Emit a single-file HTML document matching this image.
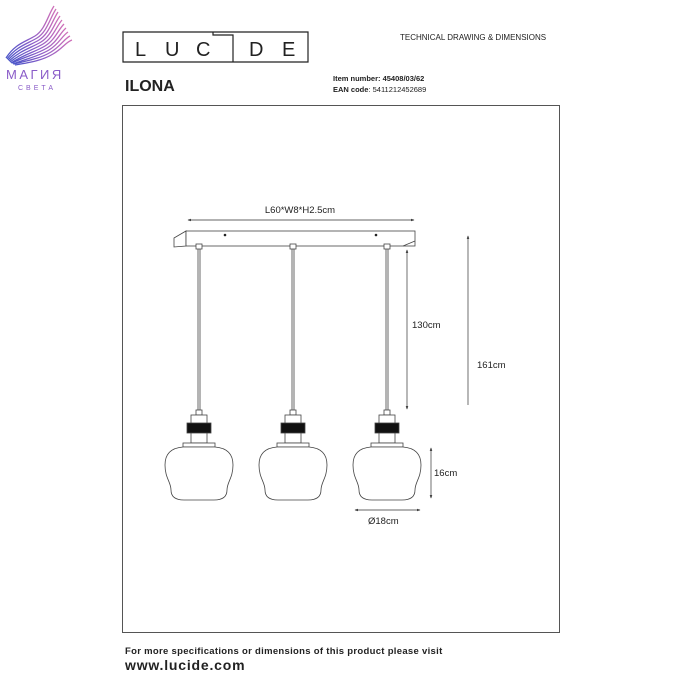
<!DOCTYPE html>
<html><head><meta charset="utf-8"><style>
html,body{margin:0;padding:0;background:#fff;width:700px;height:700px;overflow:hidden}
svg{display:block}
text{font-family:"Liberation Sans",sans-serif}
</style></head><body>
<svg width="700" height="700" viewBox="0 0 700 700" xmlns="http://www.w3.org/2000/svg">
<defs>
<linearGradient id="g" x1="0" y1="0" x2="1" y2="0">
<stop offset="0" stop-color="#4a55c8"/><stop offset="0.5" stop-color="#8a5cc8"/><stop offset="1" stop-color="#d070b8"/>
</linearGradient>
<marker id="a" viewBox="0 0 6 6" refX="5" refY="3" markerWidth="5" markerHeight="5" orient="auto-start-reverse"><path d="M0,0.8 L6,3 L0,5.2z" fill="#333"/></marker>
</defs>
<!-- magia logo -->
<g stroke="url(#g)" fill="none" stroke-width="1.3">
<path d="M6,58 C15,44 25,42 35,36 C45,30 48,15 54,6"/>
<path d="M7,59 C17,46 27,44 37,38 C47,32 50,18 56,9"/>
<path d="M8,60 C19,48 29,46 39,40 C49,34 52,21 58,12"/>
<path d="M9,61 C21,50 31,48 41,42 C51,36 54,24 60,16"/>
<path d="M10,62 C23,52 33,50 43,44 C53,38 56,27 62,20"/>
<path d="M11,63 C25,54 35,52 45,46 C55,40 58,30 64,24"/>
<path d="M12,63 C27,56 37,54 47,48 C57,42 60,33 66,28"/>
<path d="M13,64 C29,58 39,56 49,50 C59,44 62,36 68,32"/>
<path d="M14,64 C31,60 41,58 51,52 C61,46 64,39 70,36"/>
<path d="M15,65 C33,62 43,60 53,54 C63,48 66,42 72,40"/>
</g>
<text x="6" y="79" font-size="13" fill="#8a5cc8" letter-spacing="2.5">МАГИЯ</text>
<text x="18" y="90" font-size="7" fill="#8a5cc8" letter-spacing="3">СВЕТА</text>
<!-- lucide logo -->
<g fill="none" stroke="#222" stroke-width="1.2">
<path d="M123,32 H308 V62 H123 Z"/>
<path d="M213,32 V35 H233 V62"/>
</g>
<g font-size="20" fill="#222" font-weight="normal">
<text x="135" y="56">L</text>
<text x="165" y="56">U</text>
<text x="196" y="56">C</text>
<text x="249" y="56">D</text>
<text x="282" y="56">E</text>
</g>
<text x="400" y="40" font-size="8" fill="#222">TECHNICAL DRAWING &amp; DIMENSIONS</text>
<text x="125" y="91" font-size="16" font-weight="bold" fill="#222">ILONA</text>
<text x="333" y="81" font-size="7.5" font-weight="bold" fill="#222">Item number: 45408/03/62</text>
<text x="333" y="92" font-size="7.5" fill="#222"><tspan font-weight="bold">EAN code</tspan>: 5411212452689</text>
<!-- frame -->
<rect x="122.5" y="105.5" width="437" height="527" fill="none" stroke="#555" stroke-width="1"/>
<!-- width dimension -->
<line x1="188" y1="220" x2="414" y2="220" stroke="#333" stroke-width="0.7" marker-start="url(#a)" marker-end="url(#a)"/>
<text x="300" y="213" font-size="9.5" fill="#222" text-anchor="middle">L60*W8*H2.5cm</text>
<!-- canopy -->
<g fill="#fff" stroke="#444" stroke-width="0.8">
<path d="M174,238 L186,231 L186,246 L174,247z"/>
<rect x="186" y="231" width="229" height="15"/>
<path d="M415,241 L403,246"/>
</g>
<circle cx="225" cy="235" r="1.3" fill="#222"/><circle cx="376" cy="235" r="1.3" fill="#222"/>
<g stroke="#444" stroke-width="0.8" fill="#fff">
<rect x="196" y="244" width="6" height="5"/>
<line x1="198" y1="249" x2="198" y2="411"/><line x1="200" y1="249" x2="200" y2="411"/>
<rect x="196" y="410" width="6" height="5"/>
<rect x="191" y="415" width="16" height="28"/>
<rect x="187" y="423" width="24" height="10" fill="#111"/>
<rect x="183" y="443" width="32" height="4"/>
<path d="M183,447 C170,448 165,455 165,465 C165,478 171,482 171,490 C171,497 176,500 184,500 L214,500 C222,500 227,497 227,490 C227,482 233,478 233,465 C233,455 228,448 215,447z"/>
<rect x="290" y="244" width="6" height="5"/>
<line x1="292" y1="249" x2="292" y2="411"/><line x1="294" y1="249" x2="294" y2="411"/>
<rect x="290" y="410" width="6" height="5"/>
<rect x="285" y="415" width="16" height="28"/>
<rect x="281" y="423" width="24" height="10" fill="#111"/>
<rect x="277" y="443" width="32" height="4"/>
<path d="M277,447 C264,448 259,455 259,465 C259,478 265,482 265,490 C265,497 270,500 278,500 L308,500 C316,500 321,497 321,490 C321,482 327,478 327,465 C327,455 322,448 309,447z"/>
<rect x="384" y="244" width="6" height="5"/>
<line x1="386" y1="249" x2="386" y2="411"/><line x1="388" y1="249" x2="388" y2="411"/>
<rect x="384" y="410" width="6" height="5"/>
<rect x="379" y="415" width="16" height="28"/>
<rect x="375" y="423" width="24" height="10" fill="#111"/>
<rect x="371" y="443" width="32" height="4"/>
<path d="M371,447 C358,448 353,455 353,465 C353,478 359,482 359,490 C359,497 364,500 372,500 L402,500 C410,500 415,497 415,490 C415,482 421,478 421,465 C421,455 416,448 403,447z"/>
</g>
<g stroke="#333" stroke-width="0.7">
<line x1="407" y1="250" x2="407" y2="409" marker-start="url(#a)" marker-end="url(#a)"/>
<line x1="468" y1="236" x2="468" y2="405" marker-start="url(#a)"/>
<line x1="431" y1="448" x2="431" y2="498" marker-start="url(#a)" marker-end="url(#a)"/>
<line x1="355" y1="510" x2="420" y2="510" marker-start="url(#a)" marker-end="url(#a)"/>
</g>
<text x="412" y="328" font-size="9.5" fill="#222">130cm</text>
<text x="477" y="368" font-size="9.5" fill="#222">161cm</text>
<text x="434" y="476" font-size="9.5" fill="#222">16cm</text>
<text x="368" y="524" font-size="9.5" fill="#222">Ø18cm</text>
<text x="125" y="654" font-size="9.5" font-weight="bold" fill="#222" letter-spacing="0.3">For more specifications or dimensions of this product please visit</text>
<text x="125" y="670" font-size="14" font-weight="bold" fill="#222" letter-spacing="0.8">www.lucide.com</text>
</svg>
</body></html>
